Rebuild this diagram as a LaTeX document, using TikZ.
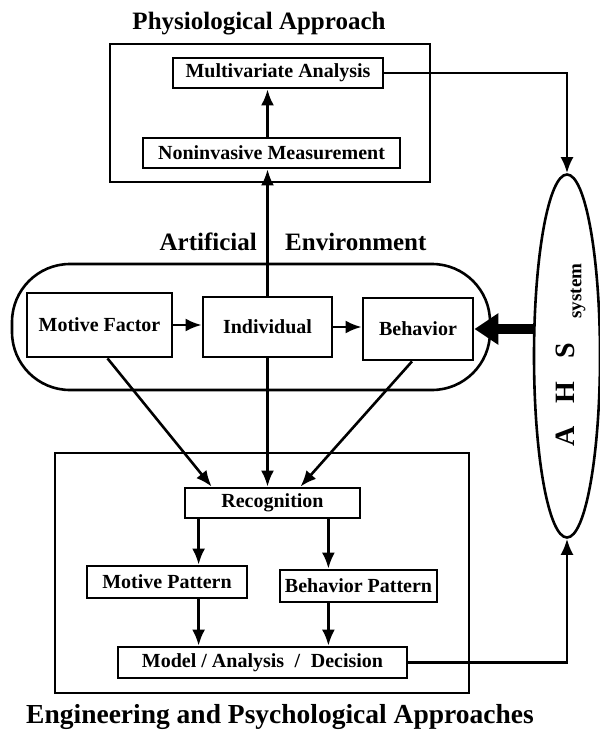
\documentclass[tikz,border=0pt]{standalone}
\usepackage{fontspec}
\setmainfont{Liberation Serif}
\usetikzlibrary{shapes.geometric,arrows.meta,calc}
\begin{document}
\begin{tikzpicture}[x=1pt,y=-1pt,
  box/.style={draw,line width=2.8pt,inner sep=0pt,font=\bfseries\fontsize{20}{22}\selectfont},
  frame/.style={draw,line width=2.6pt,inner sep=0pt},
  arr/.style={line width=2.6pt,-{Latex[length=16pt,width=13pt]}},
  ttl/.style={font=\bfseries\fontsize{25}{28}\selectfont,inner sep=0pt}]
\useasboundingbox[fill=white] (0,0) rectangle (599,735);

% frames
\node[frame,minimum width=320,minimum height=138] (phys) at (270,113) {};
\node[frame,rounded corners=58,minimum width=478,minimum height=126] (env) at (251,327) {};
\node[frame,minimum width=414,minimum height=240] (eng) at (262,573) {};
\node[draw,line width=2.6pt,ellipse,inner sep=0pt,minimum width=66,minimum height=363] (ahs) at (567,356) {};

% titles
\node[ttl,anchor=base] (t1) at (259,30) {Physiological Approach};
\node[ttl,anchor=base east] (t2) at (257,250) {Artificial};
\node[ttl,anchor=base west] (t3) at (285,250) {Environment};
\node[ttl,anchor=base,font=\bfseries\fontsize{27.5}{30}\selectfont] (t4) at (280,723) {Engineering and Psychological Approaches};

% ahs text
\node[inner sep=0pt,rotate=90,font=\bfseries\fontsize{28}{30}\selectfont] (ahst) at (565.5,395) {A\hspace{23pt}H\hspace{23pt}S};
\node[inner sep=0pt,rotate=90,font=\bfseries\fontsize{19}{21}\selectfont] (syst) at (578,291) {system};

% boxes
\node[box,minimum width=210,minimum height=30] (multi) at (278,73) {Multivariate Analysis};
\node[box,minimum width=257,minimum height=30] (noninv) at (271.5,153) {Noninvasive Measurement};
\node[box,minimum width=145,minimum height=64] (motive) at (99.5,325) {Motive Factor};
\node[box,minimum width=129,minimum height=60] (indiv) at (267.5,327) {Individual};
\node[box,minimum width=110,minimum height=62] (behav) at (418,329) {Behavior};
\node[box,minimum width=175,minimum height=30] (recog) at (272.5,503) {Recognition};
\node[box,minimum width=160,minimum height=32] (mpat) at (167,582) {Motive Pattern};
\node[box,minimum width=157,minimum height=32] (bpat) at (358.5,586) {Behavior Pattern};
\node[box,minimum width=289,minimum height=31] (model) at (262.5,662.5) {Model / Analysis \;/\; Decision};

% connectors
\draw[arr] (motive.east) -- (motive.east -| indiv.west);
\draw[arr] (indiv.east) -- (indiv.east -| behav.west);
\draw[arr] (indiv.north) -- (indiv.north |- noninv.south);
\draw[arr] (indiv.north |- noninv.north) -- (indiv.north |- multi.south);
\draw[arr] (multi.east) -| (ahs.north);
\draw[line width=10pt,-{Triangle[length=24pt,width=30pt]}] (ahs.west |- behav.east) -- (behav.east);

\draw[arr] ($(motive.south)+(8,0)$) -- ($(recog.north west)+(28,0)$);
\draw[arr] (indiv.south) -- (indiv.south |- recog.north);
\draw[arr] ($(behav.south)+(-6,0)$) -- ($(recog.north)+(28,0)$);

\coordinate (c1) at ($(recog.south west)+(15,0)$);
\coordinate (c2) at ($(recog.south east)+(-33,0)$);
\draw[arr] (c1) -- (c1 |- mpat.north);
\draw[arr] (c2) -- (c2 |- bpat.north);
\draw[arr] (c1 |- mpat.south) -- (c1 |- model.north);
\draw[arr] (c2 |- bpat.south) -- (c2 |- model.north);
\draw[arr] (model.east) -| (ahs.south);
\end{tikzpicture}
\end{document}
